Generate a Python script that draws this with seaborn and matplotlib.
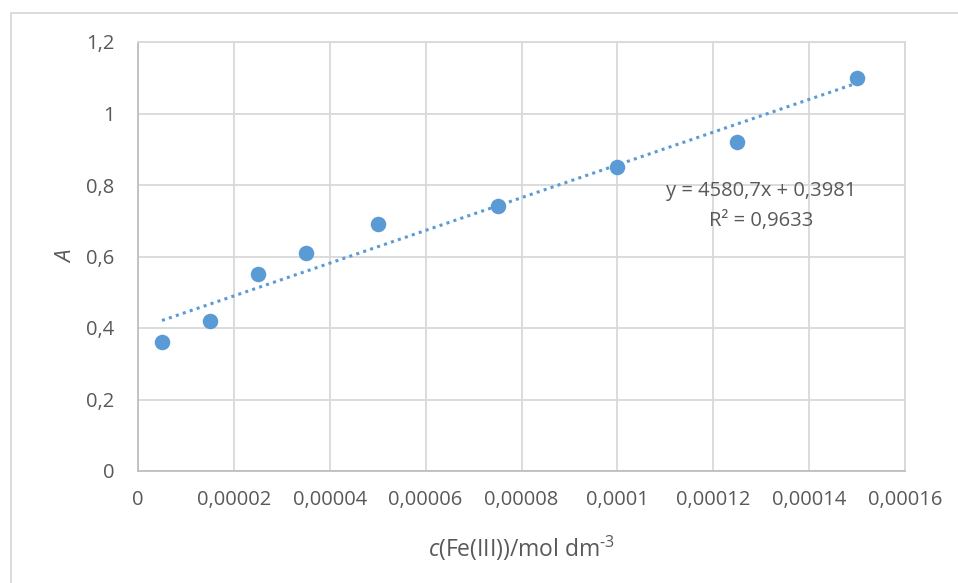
import numpy as np
import pandas as pd
import matplotlib
matplotlib.use("Agg")
import matplotlib.pyplot as plt
import seaborn as sns
from matplotlib.patches import Rectangle

# ---------------------------------------------------------
# Data: absorbance vs Fe(III) concentration
# ---------------------------------------------------------
conc = [0.000005, 0.000015, 0.000025, 0.000035, 0.00005,
        0.000075, 0.0001, 0.000125, 0.00015]
absorb = [0.36, 0.42, 0.55, 0.61, 0.69, 0.74, 0.85, 0.92, 1.10]

x_ticks = [0, 0.00002, 0.00004, 0.00006, 0.00008, 0.0001, 0.00012, 0.00014, 0.00016]
x_tick_labels = ["0", "0,00002", "0,00004", "0,00006", "0,00008",
                 "0,0001", "0,00012", "0,00014", "0,00016"]
y_ticks = [0, 0.2, 0.4, 0.6, 0.8, 1.0, 1.2]
y_tick_labels = ["0", "0,2", "0,4", "0,6", "0,8", "1", "1,2"]

eq_text = "y = 4580,7x + 0,3981"
r2_text = "R² = 0,9633"

df = pd.DataFrame({"c": conc, "A": absorb})

# ---------------------------------------------------------
# Style
# ---------------------------------------------------------
sns.set_style("white")
plt.rcParams["font.family"] = ["Open Sans", "DejaVu Sans"]
plt.rcParams["mathtext.fontset"] = "custom"
plt.rcParams["mathtext.rm"] = "Open Sans"
plt.rcParams["mathtext.it"] = "Open Sans:italic"

blue = "#5B9BD5"
text_col = "#595959"
grid_col = "#D9D9D9"

fig = plt.figure(figsize=(9.58, 5.83), dpi=100)
W, H = 958, 583
ax = fig.add_axes([138 / W, 1 - 471 / H, (905 - 138) / W, (471 - 42) / H])

# chart frame (partly cropped in the original)
fig.patches.append(Rectangle((11 / W, -0.05), 1.1, 1 - 13 / H + 0.05,
                             transform=fig.transFigure, fill=False,
                             edgecolor=grid_col, linewidth=1.3))

# ---------------------------------------------------------
# Marks
# ---------------------------------------------------------
sns.scatterplot(data=df, x="c", y="A", ax=ax, color=blue, s=125,
                edgecolor=blue, linewidth=0, zorder=3)
sns.regplot(data=df, x="c", y="A", ax=ax, ci=None, scatter=False,
            line_kws=dict(color=blue, linestyle=(0, (1, 1.4)),
                          linewidth=2.2, zorder=4))

# ---------------------------------------------------------
# Axes
# ---------------------------------------------------------
ax.set_xlim(0, 0.00016)
ax.set_ylim(0, 1.2)
ax.set_xticks(x_ticks)
ax.set_xticklabels(x_tick_labels)
ax.set_yticks(y_ticks)
ax.set_yticklabels(y_tick_labels)
ax.tick_params(length=0, labelsize=14.5, colors=text_col)
ax.tick_params(axis="y", pad=17)
ax.tick_params(axis="x", pad=14)

ax.grid(True, color=grid_col, linewidth=1.3)
ax.set_axisbelow(True)
for side in ["top", "right"]:
    ax.spines[side].set_color(grid_col)
    ax.spines[side].set_linewidth(1.3)
for side in ["left", "bottom"]:
    ax.spines[side].set_color("#BFBFBF")
    ax.spines[side].set_linewidth(1.3)

ax.set_xlabel(r"$\mathit{c}$(Fe(III))/mol dm$^{\text{-3}}$", fontsize=16.5,
              color=text_col, labelpad=17)
ax.set_ylabel("A", fontsize=16, color=text_col, style="italic", labelpad=6)

ax.text(0.813, 0.653, eq_text, transform=ax.transAxes, ha="center",
        va="center", fontsize=14.5, color=text_col)
ax.text(0.813, 0.583, r2_text, transform=ax.transAxes, ha="center",
        va="center", fontsize=14.5, color=text_col)

fig.savefig("out.png", dpi=100)
